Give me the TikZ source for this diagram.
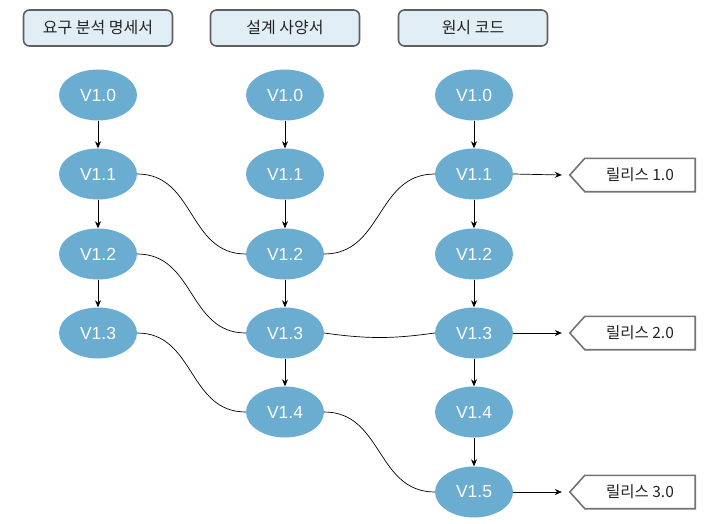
\documentclass[tikz,border=0pt]{standalone}
\usepackage{fontspec}
\setmainfont{Liberation Sans}
\newfontfamily\kfont{Noto Sans CJK KR}
\usetikzlibrary{shapes.geometric,arrows.meta}
\definecolor{ellblue}{RGB}{106,173,209}
\definecolor{hdrfill}{RGB}{226,238,245}
\definecolor{hdrdraw}{RGB}{95,95,95}
\definecolor{reldraw}{RGB}{115,115,115}
\definecolor{txtgray}{RGB}{35,35,35}
\tikzset{
  ver/.style={ellipse, fill=ellblue, draw=none, minimum width=78pt, minimum height=51pt, inner sep=0pt, text=white, font=\fontsize{17.5}{19}\selectfont},
  hdr/.style={rectangle, rounded corners=6pt, draw=hdrdraw, line width=1.6pt, fill=hdrfill, minimum width=149pt, minimum height=36pt, inner sep=0pt, text=txtgray, font=\kfont\fontsize{16}{18}\selectfont},
  rel/.style={rectangle, draw=none, minimum width=110pt, minimum height=33pt, inner sep=0pt, text=txtgray, font=\kfont\fontsize{15.5}{17}\selectfont},
  reloutline/.style={draw=reldraw, line width=1.6pt, fill=white},
  vline/.style={-{Stealth[length=7pt,width=6pt]}, line width=0.7pt, black},
  link/.style={line width=0.7pt, black},
}
\begin{document}
\begin{tikzpicture}[x=1pt,y=-1pt]
\useasboundingbox (0,0) rectangle (720,524);
% headers
\node[hdr] (h1) at (98,28) {요구 분석 명세서};
\node[hdr] (h2) at (285,28) {설계 사양서};
\node[hdr] (h3) at (473,28) {원시 코드};
% column 1
\node[ver] (a0) at (98,95) {V1.0};
\node[ver] (a1) at (98,174) {V1.1};
\node[ver] (a2) at (98,254) {V1.2};
\node[ver] (a3) at (98,333) {V1.3};
% column 2
\node[ver] (b0) at (285,95) {V1.0};
\node[ver] (b1) at (285,174) {V1.1};
\node[ver] (b2) at (285,254) {V1.2};
\node[ver] (b3) at (285,333) {V1.3};
\node[ver] (b4) at (285,412) {V1.4};
% column 3
\node[ver] (c0) at (474,95) {V1.0};
\node[ver] (c1) at (474,174) {V1.1};
\node[ver] (c2) at (474,254) {V1.2};
\node[ver] (c3) at (474,333) {V1.3};
\node[ver] (c4) at (474,412) {V1.4};
\node[ver] (c5) at (474,492) {V1.5};
% vertical arrows
\draw[vline] (a0) -- (a1);
\draw[vline] (a1) -- (a2);
\draw[vline] (a2) -- (a3);
\draw[vline] (b0) -- (b1);
\draw[vline] (b1) -- (b2);
\draw[vline] (b2) -- (b3);
\draw[vline] (b3) -- (b4);
\draw[vline] (c0) -- (c1);
\draw[vline] (c1) -- (c2);
\draw[vline] (c2) -- (c3);
\draw[vline] (c3) -- (c4);
\draw[vline] (c4) -- (c5);
% cross links
\draw[link] (a1.east) to[out=0,in=180,looseness=1.1] (b2.west);
\draw[link] (a2.east) to[out=0,in=180,looseness=1.1] (b3.west);
\draw[link] (a3.east) to[out=0,in=180,looseness=1.1] (b4.west);
\draw[link] (b2.east) to[out=0,in=180,looseness=1.1] (c1.west);
\draw[link] (b3.east) to[out=-8,in=188] (c3.west);
\draw[link] (b4.east) to[out=0,in=180,looseness=1.1] (c5.west);
% releases
\node[rel] (r1) at (640,175) {};
\node[rel] (r2) at (640,333) {};
\node[rel] (r3) at (640,492) {};
\foreach \r in {r1,r2,r3}{
  \draw[reloutline] (\r.north east) -- (\r.north west) -- ([xshift=-15pt]\r.west) -- (\r.south west) -- (\r.south east) -- cycle;
}
\node[rel] at (r1) {릴리스 1.0};
\node[rel] at (r2) {릴리스 2.0};
\node[rel] at (r3) {릴리스 3.0};
\coordinate (t1) at ([xshift=-23pt]r1.west);
\coordinate (t2) at ([xshift=-23pt]r2.west);
\coordinate (t3) at ([xshift=-23pt]r3.west);
\draw[vline] (c1.east) -- (t1);
\draw[vline] (c3.east) -- (t2);
\draw[vline] (c5.east) -- (t3);
\end{tikzpicture}
\end{document}
